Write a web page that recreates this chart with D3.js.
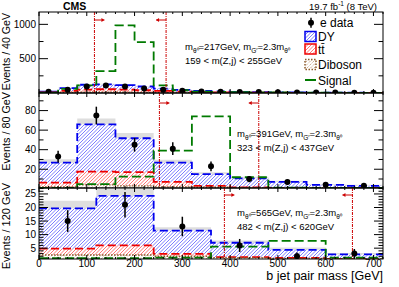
<!DOCTYPE html>
<html>
<head>
<meta charset="utf-8">
<script src="https://cdn.jsdelivr.net/npm/d3@7/dist/d3.min.js"></script>
<style>
  body { margin: 0; background: #fff; }
  svg { display: block; font-family: "Liberation Sans", Arial, sans-serif; }
</style>
</head>
<body>
<svg id="chart" width="399" height="287"></svg>
<script>
// ---- data ----
// top pad: 40 GeV bins from 0 to 720
const topData   = [17, 47, 95, 110, 95, 66, 47, 32, 22, 18, 15, 13, 10, 9, 7, 6, 5, 4];
const topErr    = [4, 7, 10, 10, 10, 8, 7, 6, 5, 4, 4, 4, 3, 3, 3, 2, 2, 2];
const topDY     = [20, 70, 120, 125, 115, 95, 65, 45, 30, 22, 17, 13, 10, 8, 6, 5, 4, 3];
const topTT     = [10, 30, 50, 55, 50, 40, 30, 20, 14, 10, 8, 6, 4, 3, 3, 2, 2, 1];
const topVV     = [3, 8, 12, 12, 10, 8, 6, 4, 3, 2, 2, 1, 1, 1, 1, 0, 0, 0];
const topSig    = [5, 60, 110, 318, 985, 740, 110, 40, 20, 15, 12, 10, 8, 6, 5, 4, 3, 3];
const topUnc    = [3, 6, 8, 8, 8, 7, 5, 4, 3, 3, 2, 2, 2, 1, 1, 1, 1, 1];

// middle pad: 80 GeV bins
const midData   = [33, 75, 45, 41, 23, 10, 7, 4, 3];
const midErr    = [6, 9, 7, 6.5, 5, 3.2, 2.6, 2, 1.7];
const midDY     = [26.7, 66, 51.7, 26.7, 15, 10.7, 7, 4, 3];
const midTT     = [6.2, 17.5, 17, 7, 2.9, 1.5, 1, 0.8, 0.5];
const midVV     = [2, 4, 3, 2, 1.5, 1, 0.8, 0.5, 0.5];
const midSig    = [1, 4.8, 12.4, 39, 74, 11.8, 1.2, 0.5, 0.5];
const midUnc    = [3.5, 6, 5.5, 3, 2, 1.5, 1.2, 1, 1];

// bottom pad: 120 GeV bins
const botData   = [15, 21, 13, 6, 2, 3];
const botErr    = [4, 4.7, 3.6, 2.4, 1.4, 1.7];
const botDY     = [19.7, 24.3, 11.5, 7, 4.4, 2.7];
const botTT     = [4.8, 6, 2.9, 1.7, 1.4, 1];
const botVV     = [2.5, 2.5, 2, 1.5, 1.2, 1.1];
const botSig    = [1.3, 1.3, 1.5, 5.6, 7.7, 1.5];
const botUnc    = [2.8, 3.2, 1.2, 0.8, 0.8, 0.5];

const xTicks = [0, 100, 200, 300, 400, 500, 600, 700];
const legendLabels = ['e data', 'DY', 't\u0074\u0304', 'Diboson', 'Signal'];

const svg = d3.select('#chart');
const L = 39, R = 383;

const x = d3.scaleLinear().domain([0, 720]).range([L, R]);

const col = { dy: '#0000ee', tt: '#ee0000', vv: '#8b5a2b', sig: '#007a00', win: '#cc0000' };
const hatchCol = { dy: '#5c5cff', tt: '#ff5050', vv: '#a87040' };

const defs = svg.append('defs');
let clipN = 0;

// hatch = white fill + diagonal lines clipped to the shape
function hatchFill(parent, d, color, box, dotted) {
  const id = 'hc' + (clipN++);
  defs.append('clipPath').attr('id', id).append('path').attr('d', d);
  parent.append('path').attr('d', d).attr('fill', '#fff');
  const hg = parent.append('g').attr('clip-path', `url(#${id})`);
  const h = box.y1 - box.y0;
  const lines = hg.append('g').attr('stroke', color).attr('stroke-width', 0.8);
  for (let k = box.x0 - h; k < box.x1; k += 3.5) {
    const ln = lines.append('line')
      .attr('x1', k).attr('y1', box.y1).attr('x2', k + h).attr('y2', box.y0);
    if (dotted) ln.attr('stroke-dasharray', '1,1.2');
  }
}

function stepPoints(vals, w) {
  const pts = vals.map((v, i) => [i * w, v]);
  pts.push([vals.length * w, vals[vals.length - 1]]);
  return pts;
}

function drawPanel(cfg) {
  const y = d3.scaleLinear().domain(cfg.domain).range([cfg.y1, cfg.y0]).clamp(true);
  const g = svg.append('g');
  const clipId = 'clip' + cfg.id;
  defs.append('clipPath').attr('id', clipId)
    .append('rect').attr('x', L).attr('y', cfg.y0).attr('width', R - L).attr('height', cfg.y1 - cfg.y0);
  const c = g.append('g').attr('clip-path', `url(#${clipId})`);
  const box = { x0: L, x1: R, y0: cfg.y0, y1: cfg.y1 };

  const line = d3.line().x(d => x(d[0])).y(d => y(d[1])).curve(d3.curveStepAfter);
  const area = d3.area().x(d => x(d[0])).y0(cfg.y1).y1(d => y(d[1])).curve(d3.curveStepAfter);

  // uncertainty band
  const bandArea = d3.area().x(d => x(d[0])).y0(d => y(d[1] - d[2])).y1(d => y(d[1] + d[2]))
    .curve(d3.curveStepAfter);
  const bandPts = stepPoints(cfg.dy, cfg.w).map((p, i) => [p[0], p[1], cfg.unc[Math.min(i, cfg.unc.length - 1)]]);
  c.append('path').attr('d', bandArea(bandPts)).attr('fill', '#dedede');

  const series = [
    { v: cfg.dy, hc: hatchCol.dy, stroke: col.dy },
    { v: cfg.tt, hc: hatchCol.tt, stroke: col.tt },
    { v: cfg.vv, hc: hatchCol.vv, stroke: col.vv, dotted: true }
  ];
  series.forEach(s => hatchFill(c, area(stepPoints(s.v, cfg.w)), s.hc, box, s.dotted));
  series.forEach(s => {
    c.append('path').attr('d', line(stepPoints(s.v, cfg.w))).attr('fill', 'none')
      .attr('stroke', s.stroke).attr('stroke-width', s.dotted ? 1.4 : 1.8)
      .attr('stroke-dasharray', s.dotted ? '1.5,1.5' : '8,4');
  });
  c.append('path').attr('d', line(stepPoints(cfg.sig, cfg.w))).attr('fill', 'none')
    .attr('stroke', col.sig).attr('stroke-width', 1.8).attr('stroke-dasharray', '9,4');

  // window lines and arrows
  cfg.win.forEach((wv, k) => {
    c.append('line').attr('x1', x(wv)).attr('x2', x(wv)).attr('y1', cfg.y0).attr('y2', cfg.y1)
      .attr('stroke', col.win).attr('stroke-width', 1).attr('stroke-dasharray', '3,1,1,1');
    const dir = k === 0 ? 1 : -1;
    const ax = x(wv), ay = cfg.arrowY;
    c.append('line').attr('x1', ax).attr('x2', ax + dir * 10).attr('y1', ay).attr('y2', ay)
      .attr('stroke', col.win).attr('stroke-width', 1);
    c.append('path')
      .attr('d', `M${ax + dir * 10},${ay} l${-dir * 3},-2 l0,4 z`)
      .attr('fill', col.win);
  });

  // data
  const dg = c.append('g');
  cfg.data.forEach((v, i) => {
    const cx = x((i + 0.5) * cfg.w);
    dg.append('line').attr('x1', cx).attr('x2', cx)
      .attr('y1', y(v - cfg.err[i])).attr('y2', y(v + cfg.err[i]))
      .attr('stroke', '#000').attr('stroke-width', 1.5);
    dg.append('circle').attr('cx', cx).attr('cy', y(v)).attr('r', 3).attr('fill', '#000');
  });

  // frame
  g.append('rect').attr('x', L).attr('y', cfg.y0).attr('width', R - L).attr('height', cfg.y1 - cfg.y0)
    .attr('fill', 'none').attr('stroke', '#000').attr('stroke-width', 1);

  // x ticks top and bottom, inside
  const ax = g.append('g').attr('stroke', '#000').attr('stroke-width', 1);
  d3.range(0, 721, 20).forEach(t => {
    const len = t % 100 === 0 ? 4 : 2;
    ax.append('line').attr('x1', x(t)).attr('x2', x(t)).attr('y1', cfg.y1).attr('y2', cfg.y1 - len);
    ax.append('line').attr('x1', x(t)).attr('x2', x(t)).attr('y1', cfg.y0).attr('y2', cfg.y0 + len);
  });
  // y ticks left and right
  cfg.minor.forEach(t => {
    if (t <= cfg.domain[0] || t >= cfg.domain[1]) return;
    const len = cfg.major.includes(t) ? 9 : 4.5;
    ax.append('line').attr('x1', L).attr('x2', L + len).attr('y1', y(t)).attr('y2', y(t));
    ax.append('line').attr('x1', R).attr('x2', R - len).attr('y1', y(t)).attr('y2', y(t));
  });
  g.selectAll('.ylab').data(cfg.major).join('text')
    .attr('x', L - 3).attr('y', d => y(d) + 3.5).attr('text-anchor', 'end')
    .attr('font-size', 10).attr('fill', '#000').text(d => d);

  // y title
  g.append('text')
    .attr('transform', `translate(10,${cfg.titleTop}) rotate(-90)`)
    .attr('text-anchor', 'end').attr('font-size', cfg.titleSize).text(cfg.title);

  // annotation
  const an = g.append('text').attr('x', cfg.annX).attr('y', cfg.annY).attr('font-size', 9.5);
  an.append('tspan').text('m');
  an.append('tspan').attr('font-size', 6.5).attr('dy', 2.5).text('\u03b8\u2070');
  an.append('tspan').attr('dy', -2.5).text(`=${cfg.mass}GeV, m`);
  an.append('tspan').attr('font-size', 6.5).attr('dy', 2.5).text('G\u2032');
  an.append('tspan').attr('dy', -2.5).text('=2.3m');
  an.append('tspan').attr('font-size', 6.5).attr('dy', 2.5).text('\u03b8\u2070');
  g.append('text').attr('x', cfg.annX).attr('y', cfg.annY + 14).attr('font-size', 9.5)
    .text(`${cfg.lo} < m(Z,j) < ${cfg.hi}GeV`);
}

drawPanel({
  id: 'top', y0: 12, y1: 93, domain: [0, 1180], w: 40,
  data: topData, err: topErr, dy: topDY, tt: topTT, vv: topVV, sig: topSig, unc: topUnc,
  major: [500, 1000], minor: [250, 500, 750, 1000],
  win: [116, 266], arrowY: 20,
  title: 'Events / 40 GeV', titleTop: 13, titleSize: 10.6,
  annX: 185, annY: 50, mass: 217, lo: 159, hi: 255
});
drawPanel({
  id: 'mid', y0: 93, y1: 188, domain: [0.8, 98], w: 80,
  data: midData, err: midErr, dy: midDY, tt: midTT, vv: midVV, sig: midSig, unc: midUnc,
  major: [20, 40, 60, 80], minor: d3.range(10, 98, 10),
  win: [252, 460], arrowY: 103,
  title: 'Events / 80 GeV', titleTop: 92, titleSize: 10.8,
  annX: 237, annY: 137, mass: 391, lo: 323, hi: 437
});
drawPanel({
  id: 'bot', y0: 188, y1: 259, domain: [1, 27.2], w: 120,
  data: botData, err: botErr, dy: botDY, tt: botTT, vv: botVV, sig: botSig, unc: botUnc,
  major: [5, 10, 15, 20, 25], minor: d3.range(2, 28, 1),
  win: [388, 656], arrowY: 195,
  title: 'Events / 120 GeV', titleTop: 183, titleSize: 11,
  annX: 237, annY: 216, mass: 565, lo: 482, hi: 620
});

// x tick labels and title
svg.selectAll('.xlab').data(xTicks).join('text')
  .attr('x', d => x(d)).attr('y', 267).attr('text-anchor', 'middle')
  .attr('font-size', 10).text(d => d);
svg.append('text').attr('x', R).attr('y', 280).attr('text-anchor', 'end')
  .attr('font-size', 12.5).text('b jet pair mass [GeV]');

// header
svg.append('text').attr('x', 63).attr('y', 9.5).attr('font-size', 10.5).attr('font-weight', 'bold').text('CMS');
const lumi = svg.append('text').attr('x', 377).attr('y', 9.5).attr('text-anchor', 'end').attr('font-size', 9.5);
lumi.append('tspan').text('19.7 fb');
lumi.append('tspan').attr('font-size', 6.5).attr('dy', -3.5).text('-1');
lumi.append('tspan').attr('dy', 3.5).text(' (8 TeV)');

// legend
const lg = svg.append('g');
const lx = 305, lrows = [22.7, 36.5, 49, 64.5, 80];
lg.append('line').attr('x1', lx + 6).attr('x2', lx + 6).attr('y1', lrows[0] - 5).attr('y2', lrows[0] + 5)
  .attr('stroke', '#000').attr('stroke-width', 1.5);
lg.append('circle').attr('cx', lx + 6).attr('cy', lrows[0]).attr('r', 3).attr('fill', '#000');
[[hatchCol.dy, col.dy, false], [hatchCol.tt, col.tt, false], [hatchCol.vv, col.vv, true]].forEach((b, i) => {
  const by = lrows[i + 1] - 5;
  const d = `M${lx},${by}h11v10h-11z`;
  hatchFill(lg, d, b[0], { x0: lx, x1: lx + 11, y0: by, y1: by + 10 }, b[2]);
  const r = lg.append('path').attr('d', d).attr('fill', 'none')
    .attr('stroke', b[1]).attr('stroke-width', 1.5);
  if (b[2]) r.attr('stroke-dasharray', '1.5,1.5');
});
lg.append('line').attr('x1', lx).attr('x2', lx + 11).attr('y1', lrows[4]).attr('y2', lrows[4])
  .attr('stroke', col.sig).attr('stroke-width', 2);
legendLabels.forEach((t, i) => {
  lg.append('text').attr('x', i === 0 ? lx + 15 : lx + 13).attr('y', lrows[i] + 4.5)
    .attr('font-size', 12).text(t);
});
</script>
</body>
</html>
